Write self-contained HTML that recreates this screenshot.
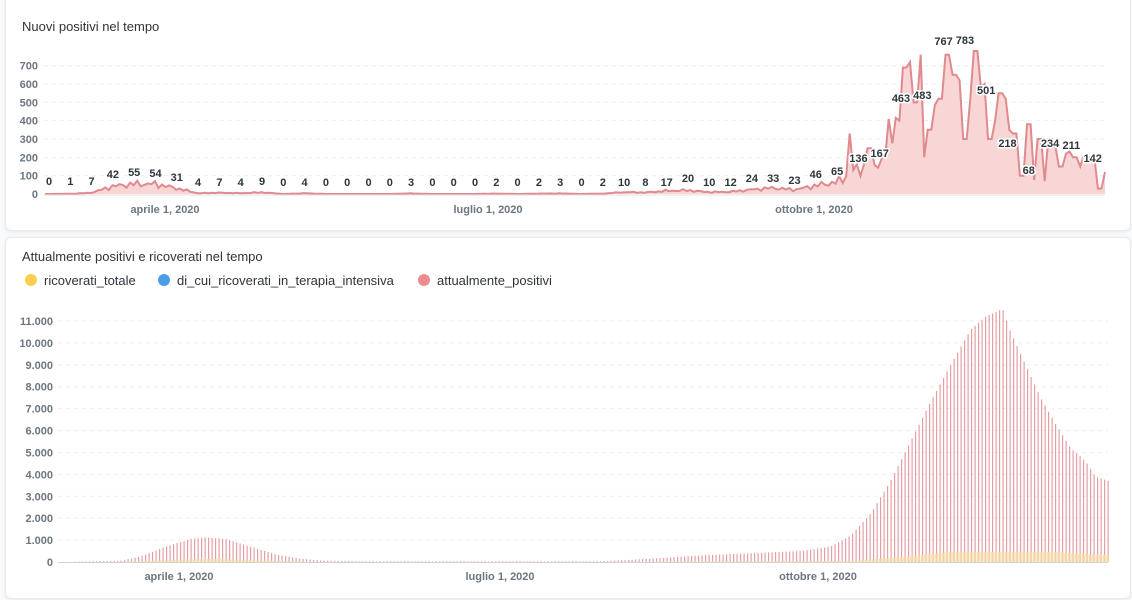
<!DOCTYPE html>
<html><head><meta charset="utf-8">
<style>
body{margin:0;background:#f9fafb;width:1132px;height:600px;overflow:hidden;font-family:"Liberation Sans",sans-serif;}
.card{position:absolute;background:#fff;border:1px solid #e8eaed;border-radius:6px;box-shadow:0 1px 3px rgba(0,0,0,0.08);}
svg{position:absolute;left:0;top:0}
</style></head><body>
<div class="card" style="left:5px;top:-4px;width:1124px;height:233px"></div>
<div class="card" style="left:5px;top:237px;width:1124px;height:360px"></div>
<svg id="s" width="1132" height="600" font-family="Liberation Sans, sans-serif"></svg>
<script>
var s=document.getElementById('s'),h='';
function T(x,y,t,o){h+='<text x="'+x+'" y="'+y+'" '+(o||'')+'>'+t+'</text>';}
// ---- top chart
T(22,31,'Nuovi positivi nel tempo','font-size="13" fill="#2e353b"');
var y0=194,k=0.1833;
[0,100,200,300,400,500,600,700].forEach(function(v){var y=y0-v*k;
 if(v>0)h+='<line x1="44" x2="1105" y1="'+y+'" y2="'+y+'" stroke="#eceef0" stroke-dasharray="4,4"/>';
 T(38,y+4,v,'font-size="11" font-weight="bold" fill="#6c7680" text-anchor="end"');});
var L=[0,1,7,42,55,54,31,4,7,4,9,0,4,0,0,0,0,3,0,0,0,2,0,2,3,0,2,10,8,17,20,10,12,24,33,23,46,65,136,167,463,483,767,783,501,218,68,234,211,142];
var x0=45,x1=1105,N=300,dx=(x1-x0)/(N-1);
function lx(i){return 49+i*21.3;}
// base values from labels, interpolated
var base=[];for(var j=0;j<N;j++){var x=x0+j*dx;var f=(x-49)/21.3;if(f<0)f=0;if(f>49)f=49;var a=Math.floor(f),b=Math.min(49,a+1),t=f-a;base.push(L[a]*(1-t)+L[b]*t);}
// extra spikes for the second wave
var sp={850:330,870:250,900:400,905:690,910:720,915:500,920:760,925:200,930:350,940:520,945:760,950:760,955:650,960:620,965:300,970:520,975:780,980:580,985:600,990:300,995:400,1000:550,1005:520,1010:350,1015:330,1020:100,1030:380,1040:300,1045:70,1050:300,1055:260,1060:150,1065:220,1075:200,1080:150,1085:210,1090:190,1095:200,1100:30,1105:120};
var pts=[];for(var j=0;j<N;j++){var x=x0+j*dx,v=base[j];
 var n=Math.sin(j*2.7)*0.25+Math.sin(j*1.3)*0.15;v=v*(1+n);
 if(x>830){var best=null,bd=9;for(var q in sp){var d=Math.abs(q-x);if(d<bd){bd=d;best=sp[q];}}if(best!==null&&bd<3)v=best;}
 if(v<0)v=0;pts.push([x,y0-v*k]);}
var d='M'+x0+','+y0;pts.forEach(function(p){d+=' L'+p[0].toFixed(1)+','+p[1].toFixed(1);});d+=' L'+x1+','+y0+' Z';
h+='<path d="'+d+'" fill="#f9d6d6"/>';
h+='<polyline points="'+pts.map(function(p){return p[0].toFixed(1)+','+p[1].toFixed(1)}).join(' ')+'" fill="none" stroke="#e08a8e" stroke-width="2"/>';
h+='<line x1="44" x2="1105" y1="195" y2="195" stroke="#dfe2e5"/>';
var LY=[185,185,185,178,176,177,181,186,186,186,185,186,186,186,186,186,186,186,186,186,186,186,186,186,186,186,186,186,186,186,182,186,186,182,182,184,178,175,162,157,102,99,45,44,94,147,174,147,149,162];
L.forEach(function(v,i){T(lx(i),LY[i],v,'font-size="11" font-weight="bold" fill="#2e353b" text-anchor="middle" stroke="#fff" stroke-width="3" paint-order="stroke"');});
[['aprile 1, 2020',165],['luglio 1, 2020',488],['ottobre 1, 2020',814]].forEach(function(a){T(a[1],213,a[0],'font-size="11" font-weight="bold" fill="#6c7680" text-anchor="middle"');});
// ---- bottom chart
T(22,261,'Attualmente positivi e ricoverati nel tempo','font-size="13" fill="#2e353b"');
[['ricoverati_totale','#f8cf4f',31],['di_cui_ricoverati_in_terapia_intensiva','#4a9fe4',164],['attualmente_positivi','#ec8a8e',424]].forEach(function(l){
 h+='<circle cx="'+l[2]+'" cy="280" r="6" fill="'+l[1]+'"/>';T(l[2]+13,285,l[0],'font-size="13" fill="#2e353b"');});
var b0=562,kb=241/11000;
for(var v=0;v<=11000;v+=1000){var y=b0-v*kb;
 if(v>0)h+='<line x1="58" x2="1108" y1="'+y+'" y2="'+y+'" stroke="#eceef0" stroke-dasharray="4,4"/>';
 T(53,y+4,v===0?'0':(v/1000)+'.000','font-size="11" font-weight="bold" fill="#6c7680" text-anchor="end"');}
var K=[[62,0],[120,60],[140,250],[165,700],[190,1050],[205,1120],[225,1050],[250,700],[275,350],[300,150],[320,70],[360,30],[600,30],[650,150],[700,300],[760,420],[800,500],[830,700],[850,1200],[870,2200],[890,3700],[910,5500],[930,7300],[950,9000],[970,10600],[985,11200],[1002,11550],[1010,10500],[1025,9000],[1040,7500],[1055,6300],[1070,5200],[1085,4600],[1095,3900],[1108,3700]];
function interp(x){for(var i=0;i<K.length-1;i++){if(x<=K[i+1][0]){var t=(x-K[i][0])/(K[i+1][0]-K[i][0]);return K[i][1]*(1-t)+K[i+1][1]*t;}}return K[K.length-1][1];}
for(var x=75;x<=1108;x+=3.5){var v=interp(x);
 var r=x<300?v*0.12:(x>850?Math.min(450,v*0.05+ (x>950?150:0)):Math.min(40,v*0.08));
 var yv=b0-v*kb;
 h+='<rect x="'+x.toFixed(1)+'" y="'+yv.toFixed(1)+'" width="1.2" height="'+(v*kb).toFixed(1)+'" fill="#e59fa2"/>';
 h+='<rect x="'+(x-1.2).toFixed(1)+'" y="'+(b0-r*kb).toFixed(1)+'" width="3" height="'+(r*kb).toFixed(1)+'" fill="#f8d9a6" opacity="0.8"/>';}
h+='<line x1="58" x2="1108" y1="562.5" y2="562.5" stroke="#cfd3d7"/>';
[['aprile 1, 2020',179],['luglio 1, 2020',500],['ottobre 1, 2020',818]].forEach(function(a){T(a[1],580,a[0],'font-size="11" font-weight="bold" fill="#6c7680" text-anchor="middle"');});
s.innerHTML=h;
</script>
</body></html>
